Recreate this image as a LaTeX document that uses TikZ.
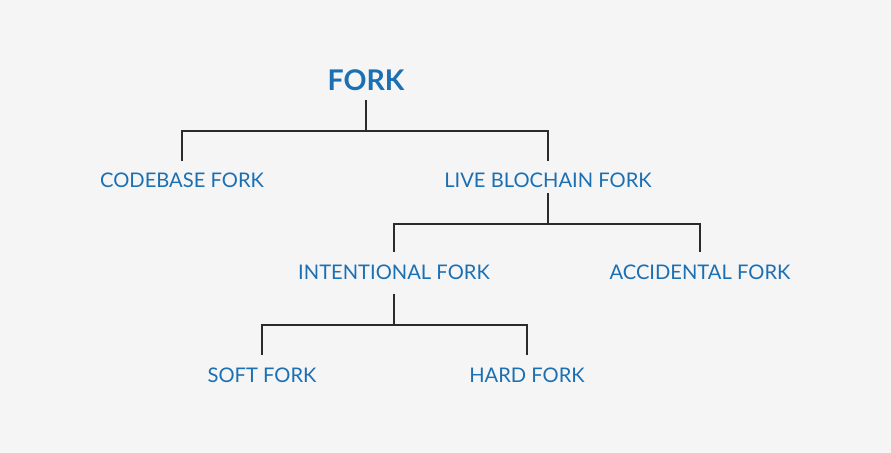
\documentclass[tikz,border=0pt]{standalone}
\usepackage{fontspec}
\setmainfont{Lato}
\definecolor{forkblue}{HTML}{1B6FB3}
\definecolor{linegray}{HTML}{2B2B2B}
\definecolor{bggray}{HTML}{F5F5F5}
\begin{document}
\begin{tikzpicture}[x=0.03cm,y=-0.03cm,
		lbl/.style={text=forkblue,inner xsep=0pt,inner ysep=0.36cm,text height=0.45cm,text depth=0pt,font=\fontsize{17.2}{20}\selectfont},
		link/.style={draw=linegray,line width=2pt}]
	\fill[bggray] (0,0) rectangle (891,453);
	\node[lbl,inner ysep=0.28cm,text height=0.61cm,font=\fontsize{24.3}{28}\selectfont\bfseries] (fork) at (366,80.4) {FORK};
	\node[lbl] (codebase) at (182,180.5) {CODEBASE FORK};
	\node[lbl] (live) at (548,180.5) {LIVE BLOCHAIN FORK};
	\node[lbl] (intent) at (394,271.8) {INTENTIONAL FORK};
	\node[lbl] (accident) at (700,271.8) {ACCIDENTAL FORK};
	\node[lbl] (soft) at (262,374.8) {SOFT FORK};
	\node[lbl] (hard) at (527,374.8) {HARD FORK};
	\draw[link] (fork.south) -- ++(0,31) coordinate (f1) -| (codebase.north) (f1) -| (live.north);
	\draw[link] (live.south) ++(0,-7) -- ++(0,31) coordinate (l1) -| (intent.north) (l1) -| (accident.north);
	\draw[link] (intent.south) ++(0,2) -- ++(0,31.5) coordinate (i1) -| (soft.north) (i1) -| (hard.north);
\end{tikzpicture}
\end{document}
